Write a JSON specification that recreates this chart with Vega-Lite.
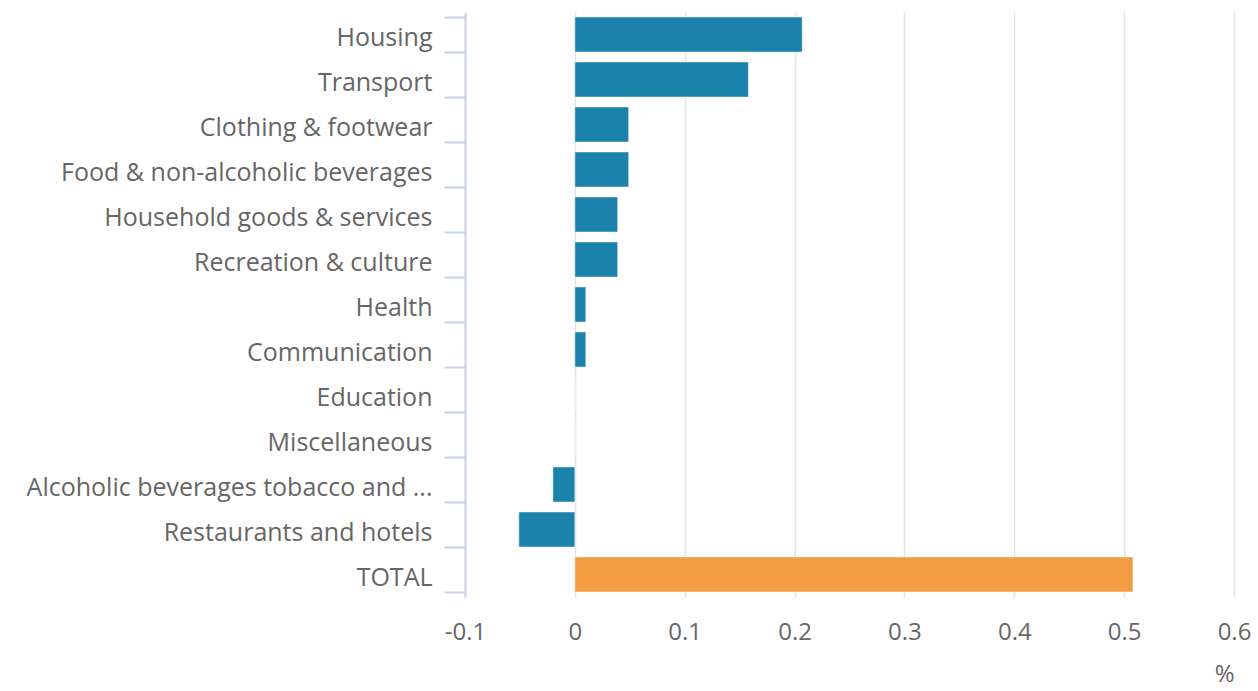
{
  "$schema": "https://vega.github.io/schema/vega-lite/v6.json",
  "width": 769,
  "height": 585,
  "autosize": {"type": "none"},
  "padding": {"left": 465, "top": 12, "right": 24, "bottom": 94},
  "background": "white",
  "config": {"view": {"stroke": null}, "font": "Open Sans"},
  "data": {
    "values": [
      {"category": "Housing", "value": 0.207, "kind": "item"},
      {"category": "Transport", "value": 0.158, "kind": "item"},
      {"category": "Clothing & footwear", "value": 0.049, "kind": "item"},
      {"category": "Food & non-alcoholic beverages", "value": 0.049, "kind": "item"},
      {"category": "Household goods & services", "value": 0.039, "kind": "item"},
      {"category": "Recreation & culture", "value": 0.039, "kind": "item"},
      {"category": "Health", "value": 0.01, "kind": "item"},
      {"category": "Communication", "value": 0.01, "kind": "item"},
      {"category": "Education", "value": 0, "kind": "item"},
      {"category": "Miscellaneous", "value": 0, "kind": "item"},
      {"category": "Alcoholic beverages tobacco and ...", "value": -0.02, "kind": "item"},
      {"category": "Restaurants and hotels", "value": -0.051, "kind": "item"},
      {"category": "TOTAL", "value": 0.508, "kind": "total"}
    ]
  },
  "mark": {"type": "bar", "opacity": 1, "stroke": "white", "strokeWidth": 0.5},
  "encoding": {
    "y": {
      "field": "category",
      "type": "nominal",
      "sort": null,
      "scale": {"paddingInner": 0.22, "paddingOuter": 0.11},
      "axis": {
        "title": null,
        "domainColor": "#c9d3ec",
        "domainWidth": 2,
        "tickColor": "#c9d3ec",
        "tickWidth": 2,
        "tickSize": 21,
        "tickBand": "extent",
        "labelFontSize": 25,
        "labelColor": "#666666",
        "labelPadding": 12,
        "labelOffset": 3,
        "labelLimit": 460,
        "grid": false
      }
    },
    "x": {
      "field": "value",
      "type": "quantitative",
      "scale": {"domain": [-0.1, 0.6], "nice": false, "zero": false},
      "axis": {
        "title": "%",
        "titleFontSize": 24,
        "titleFontWeight": "normal",
        "titleColor": "#666666",
        "titleAnchor": "end",
        "titlePadding": 18,
        "values": [-0.1, 0, 0.1, 0.2, 0.3, 0.4, 0.5, 0.6],
        "labelExpr": "'' + datum.value",
        "labelFontSize": 24,
        "labelColor": "#666666",
        "labelPadding": 23,
        "labelFlush": false,
        "domain": false,
        "ticks": false,
        "grid": true,
        "gridColor": "#e3e3e3",
        "gridWidth": 1.5
      }
    },
    "color": {
      "field": "kind",
      "type": "nominal",
      "scale": {"domain": ["item", "total"], "range": ["#1b83ab", "#f39c42"]},
      "legend": null
    }
  }
}
